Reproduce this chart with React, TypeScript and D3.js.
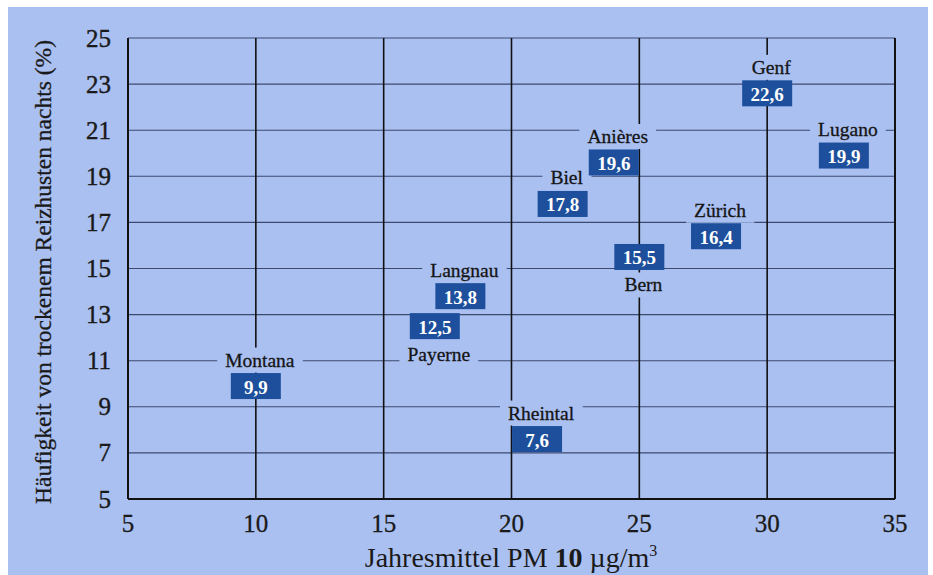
import React, { useEffect, useRef } from "react";
import * as d3 from "d3";

const cities = ["Montana", "Payerne", "Langnau", "Rheintal", "Biel", "Anières", "Bern", "Zürich", "Genf", "Lugano"];
const pm10 = [10, 17, 18, 21, 22, 24, 25, 28, 30, 33];
const cough = [9.9, 12.5, 13.8, 7.6, 17.8, 19.6, 15.5, 16.4, 22.6, 19.9];
const labelSide = ["above", "below", "above", "above", "above", "above", "below", "above", "above", "above"];
const xTicks = [5, 10, 15, 20, 25, 30, 35];
const yTicks = [5, 7, 9, 11, 13, 15, 17, 19, 21, 23, 25];
const yTitle = "Häufigkeit von trockenem Reizhusten nachts (%)";

const W = 933;
const H = 575;
const BG = "#aac0f1";
const BOX = "#1d4f9c";
const FONT = "'Liberation Serif', 'Times New Roman', serif";

export default function App() {
  const ref = useRef<SVGSVGElement | null>(null);

  useEffect(() => {
    const svg = d3.select(ref.current);
    svg.selectAll("*").remove();

    const x = d3.scaleLinear().domain([5, 35]).range([128, 895]);
    const y = d3.scaleLinear().domain([5, 25]).range([499, 38]);

    svg.append("rect").attr("x", 0).attr("y", 0).attr("width", W).attr("height", H).attr("fill", "#ffffff");
    svg.append("rect").attr("x", 8).attr("y", 7).attr("width", 920).attr("height", H - 7).attr("fill", BG);

    const grid = svg.append("g");
    grid.selectAll("line.h").data(yTicks).enter().append("line")
      .attr("x1", x(5)).attr("x2", x(35))
      .attr("y1", (d) => y(d)).attr("y2", (d) => y(d))
      .attr("stroke", (d) => (d === 5 ? "#111" : "#3c4a70"))
      .attr("stroke-width", (d) => (d === 5 ? 2 : 1.1));
    grid.selectAll("line.v").data(xTicks).enter().append("line")
      .attr("x1", (d) => x(d)).attr("x2", (d) => x(d))
      .attr("y1", y(25)).attr("y2", y(5))
      .attr("stroke", "#111")
      .attr("stroke-width", (d) => (d === 5 || d === 35 ? 2 : 1.6));

    svg.append("g").selectAll("text").data(yTicks).enter().append("text")
      .attr("x", 111).attr("y", (d) => y(d))
      .attr("text-anchor", "end").attr("dominant-baseline", "central")
      .attr("font-family", FONT).attr("font-size", 25).attr("fill", "#1a1a1a")
      .attr("stroke", "#1a1a1a").attr("stroke-width", 0.4)
      .text((d) => String(d));

    svg.append("g").selectAll("text").data(xTicks).enter().append("text")
      .attr("x", (d) => x(d)).attr("y", 523)
      .attr("text-anchor", "middle").attr("dominant-baseline", "central")
      .attr("font-family", FONT).attr("font-size", 25).attr("fill", "#1a1a1a")
      .attr("stroke", "#1a1a1a").attr("stroke-width", 0.3)
      .text((d) => String(d));

    const xt = svg.append("text")
      .attr("x", 511).attr("y", 567)
      .attr("text-anchor", "middle")
      .attr("font-family", FONT).attr("font-size", 28).attr("fill", "#1a1a1a");
    xt.append("tspan").text("Jahresmittel PM ");
    xt.append("tspan").attr("font-weight", "bold").text("10");
    xt.append("tspan").text(" µg/m");
    xt.append("tspan").attr("font-size", 16).attr("dy", -11).text("3");

    svg.append("text")
      .attr("transform", `translate(51,272) rotate(-90)`)
      .attr("text-anchor", "middle")
      .attr("font-family", FONT).attr("font-size", 23.5).attr("fill", "#1a1a1a")
      .attr("stroke", "#1a1a1a").attr("stroke-width", 0.3)
      .text(yTitle);

    const pts = cities.map((c, i) => ({ city: c, px: pm10[i], val: cough[i], side: labelSide[i] }));
    const g = svg.append("g");
    const bw = 50;
    const bh = 26;
    pts.forEach((p) => {
      const cx = x(p.px);
      const cy = y(p.val);
      const ly = p.side === "above" ? cy - 26 : cy + 28;
      const lg = g.append("g");
      const mask = lg.append("rect").attr("fill", BG);
      const t = lg.append("text")
        .attr("x", cx + 4).attr("y", ly)
        .attr("text-anchor", "middle").attr("dominant-baseline", "central")
        .attr("font-family", FONT).attr("font-size", 19.5).attr("fill", "#151515")
        .attr("stroke", "#151515").attr("stroke-width", 0.3)
        .text(p.city);
      const bb = (t.node() as SVGTextElement).getBBox();
      mask.attr("x", bb.x - 8).attr("y", bb.y - 2).attr("width", bb.width + 16).attr("height", bb.height + 4);
      g.append("rect")
        .attr("x", cx - bw / 2).attr("y", cy - bh / 2)
        .attr("width", bw).attr("height", bh)
        .attr("fill", BOX);
      g.append("text")
        .attr("x", cx).attr("y", cy + 1)
        .attr("text-anchor", "middle").attr("dominant-baseline", "central")
        .attr("font-family", FONT).attr("font-size", 19).attr("font-weight", "bold")
        .attr("fill", "#ffffff")
        .text(String(p.val).replace(".", ","));
    });
  }, []);

  return (
    <svg
      ref={ref}
      width={W}
      height={H}
      style={{ position: "absolute", left: 0, top: 0, display: "block" }}
    />
  );
}
